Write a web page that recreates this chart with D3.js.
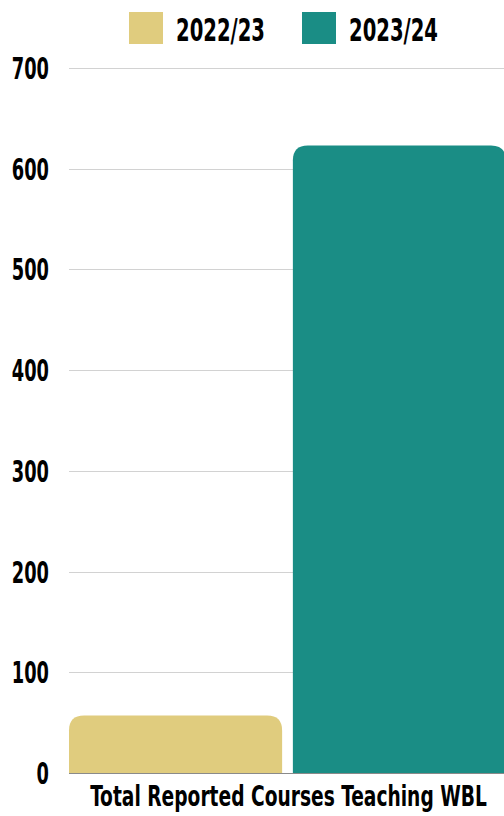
<!DOCTYPE html>
<html>
<head>
<meta charset="utf-8">
<script src="https://cdn.jsdelivr.net/npm/d3@7"></script>
<style>
  body { margin: 0; background: #fff; }
  text { font-family: "Liberation Sans Narrow", "DejaVu Sans Condensed", sans-serif; font-weight: bold; fill: #000; }
</style>
</head>
<body>
<div id="chart"></div>
<script>
const category = "Total Reported Courses Teaching WBL";
const seriesNames = ["2022/23", "2023/24"];
const seriesValues = [57, 623];
const yTicks = [0, 100, 200, 300, 400, 500, 600, 700];
const colors = ["#e0cc7e", "#1a8d85"];

drawbar()

function drawbar() {
	const width = 504, height = 816;

	const svg = d3.select("#chart")
		.append("svg")
		.attr("width", width)
		.attr("height", height);

	const y = d3.scaleLinear()
		.domain([0, 700])
		.range([773, 68]);

	const x = d3.scaleBand()
		.domain(seriesNames)
		.range([69, 506])
		.paddingInner(0.048)
		.paddingOuter(0);

	const color = d3.scaleOrdinal()
		.domain(seriesNames)
		.range(colors);

	// grid
	svg.append("g")
		.selectAll("line")
		.data(yTicks)
		.join("line")
		.attr("x1", 69)
		.attr("x2", width)
		.attr("y1", d => Math.round(y(d)) + 0.5)
		.attr("y2", d => Math.round(y(d)) + 0.5)
		.attr("stroke", d => d === 0 ? "#8a8a8a" : "#d2d2d2")
		.attr("stroke-width", 1);

	// y labels, squeezed to look like a condensed display font
	svg.append("g")
		.selectAll("text")
		.data(yTicks)
		.join("text")
		.attr("x", 49)
		.attr("y", d => y(d) + 11)
		.attr("text-anchor", "end")
		.style("font-size", "30px")
		.attr("textLength", d => String(d).length * 12.4)
		.attr("lengthAdjust", "spacingAndGlyphs")
		.text(d => d);

	// bars with rounded tops
	const r = 15;
	svg.append("g")
		.selectAll("path")
		.data(seriesNames.map((s, i) => ({ name: s, value: seriesValues[i] })))
		.join("path")
		.attr("fill", d => color(d.name))
		.attr("d", d => {
			const x0 = x(d.name), x1 = x0 + x.bandwidth();
			const y0 = y(0), y1 = y(d.value);
			const rr = Math.min(r, (y0 - y1) / 2);
			return `M${x0},${y0}V${y1 + rr}Q${x0},${y1} ${x0 + rr},${y1}H${x1 - rr}Q${x1},${y1} ${x1},${y1 + rr}V${y0}Z`;
		});

	// legend
	const lg = svg.append("g")
		.selectAll("g")
		.data(seriesNames)
		.join("g")
		.attr("transform", (d, i) => `translate(${129 + i * 173},12)`);
	lg.append("rect")
		.attr("width", 34)
		.attr("height", 32)
		.attr("fill", d => color(d));
	lg.append("text")
		.attr("x", 47)
		.attr("y", 29)
		.style("font-size", "32px")
		.attr("textLength", 89)
		.attr("lengthAdjust", "spacingAndGlyphs")
		.text(d => d);

	// x label, scaled horizontally to fit under the bars
	const xl = svg.append("text")
		.attr("text-anchor", "middle")
		.style("font-size", "29px")
		.text(category);
	const sx = 397 / xl.node().getComputedTextLength();
	xl.attr("transform", `translate(288.5,806) scale(${sx},1)`);
}
</script>
</body>
</html>
